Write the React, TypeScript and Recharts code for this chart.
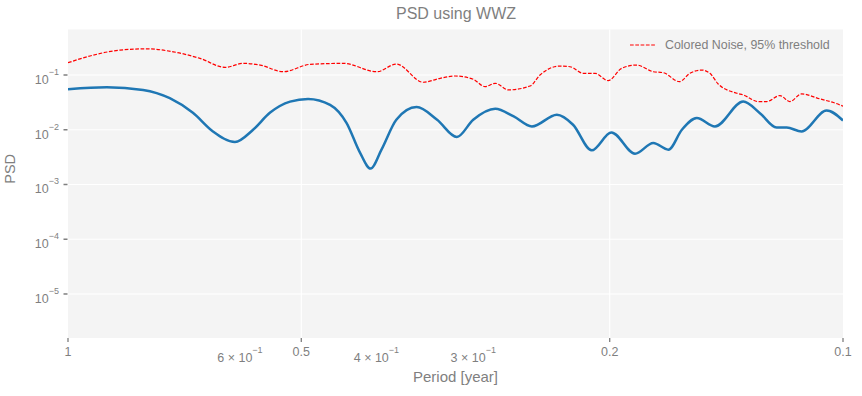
import { LineChart, Line, XAxis, YAxis, CartesianGrid, Label } from 'recharts';

// periods [year] and PSD values
const psdPeriod = [
  1.0, 0.891, 0.8, 0.739, 0.69, 0.65, 0.609, 0.577, 0.549, 0.517, 0.49, 0.459, 0.437, 0.42, 0.407,
  0.394, 0.377, 0.355, 0.334, 0.315, 0.3, 0.281, 0.266, 0.252, 0.234, 0.223, 0.211, 0.199, 0.1855,
  0.1757, 0.168, 0.1614, 0.1544, 0.1463, 0.1345, 0.128, 0.1218, 0.1182, 0.1131, 0.105, 0.1,
];
const psdValues = [
  0.055, 0.0598, 0.0534, 0.0377, 0.0204, 0.00931, 0.00598, 0.01, 0.0204, 0.0327, 0.0366, 0.0285,
  0.01324, 0.00382, 0.00195, 0.00433, 0.0152, 0.0259, 0.0152, 0.00737, 0.0152, 0.0241, 0.01746,
  0.01148, 0.01874, 0.01233, 0.0042, 0.00893, 0.00366, 0.00573, 0.00433, 0.01, 0.01633, 0.01148,
  0.0327, 0.0201, 0.011, 0.011, 0.00931, 0.02244, 0.01476,
];

const noisePeriod = [
  1.0, 0.9276, 0.857, 0.7918, 0.7313, 0.6756, 0.627, 0.594, 0.565, 0.5275, 0.487, 0.4414, 0.3995,
  0.377, 0.348, 0.331, 0.3168, 0.3, 0.2897, 0.281, 0.2703, 0.2533, 0.246, 0.2318, 0.225, 0.2163,
  0.2089, 0.2009, 0.193, 0.1846, 0.1757, 0.1705, 0.1626, 0.1576, 0.1522, 0.1485, 0.1449, 0.1371,
  0.1345, 0.1286, 0.1255, 0.1206, 0.1171, 0.1131, 0.1071, 0.1029, 0.1,
];
const noiseValues = [
  0.1674, 0.231, 0.2847, 0.3006, 0.2652, 0.2012, 0.138, 0.1632, 0.152, 0.1148, 0.1565, 0.1632,
  0.1148, 0.1585, 0.0737, 0.0871, 0.0959, 0.0835, 0.0613, 0.0706, 0.0534, 0.0631, 0.1, 0.1458,
  0.1416, 0.1074, 0.1074, 0.0788, 0.1324, 0.152, 0.1148, 0.1102, 0.0755, 0.1074, 0.1233, 0.1074,
  0.0686, 0.0465, 0.0433, 0.0327, 0.0327, 0.0421, 0.0327, 0.0451, 0.0366, 0.0314, 0.027,
];

const xTicks = [1, 0.6, 0.5, 0.4, 0.3, 0.2, 0.1];
const xMajor = [1, 0.5, 0.2, 0.1];
const yTicks = [1e-5, 1e-4, 1e-3, 1e-2, 1e-1];

const psdData = psdPeriod.map((p, i) => ({ period: p, psd: psdValues[i] }));
const noiseData = noisePeriod.map((p, i) => ({ period: p, noise: noiseValues[i] }));

const GRAY = '#7f7f7f';
const FONT = '"Liberation Sans", Arial, sans-serif';

const XTick = ({ x, y, payload }: any) => {
  const v = payload.value;
  if (xMajor.includes(v)) {
    return (
      <g>
        <line x1={x} x2={x} y1={y} y2={y + 4} stroke={GRAY} strokeWidth={1.3} />
        <text x={x} y={y + 18} textAnchor="middle" fill={GRAY} fontSize={12.5} fontFamily={FONT}>
          {String(v)}
        </text>
      </g>
    );
  }
  const m = Math.round(v * 10);
  return (
    <text x={x} y={y + 24} textAnchor="middle" fill={GRAY} fontSize={12.5} fontFamily={FONT}>
      {m} × 10<tspan dy={-9} fontSize={9}>−1</tspan>
    </text>
  );
};

const YTick = ({ x, y, payload }: any) => {
  const e = Math.round(Math.log10(payload.value));
  return (
    <g>
      <line x1={x - 4.5} x2={x - 0.5} y1={y} y2={y} stroke={GRAY} strokeWidth={1.5} />
      <text x={x - 9} y={y + 9} textAnchor="end" fill={GRAY} fontSize={12.5} fontFamily={FONT}>
        10<tspan dy={-9} fontSize={9}>−{Math.abs(e)}</tspan>
      </text>
    </g>
  );
};

export default function App() {
  return (
    <div style={{ position: 'absolute', left: 0, top: 0, width: 862, height: 396, background: '#fff', fontFamily: FONT }}>
      <div style={{ position: 'absolute', left: 0, width: 912, top: 5, textAlign: 'center', color: GRAY, fontSize: 16 }}>
        PSD using WWZ
      </div>
      <LineChart width={862} height={396} data={psdData} margin={{ top: 29.5, right: 19, bottom: 8, left: 8 }}>
        <CartesianGrid fill="#f4f4f4" stroke="#ffffff" strokeWidth={1.2} verticalValues={[0.5, 0.2]} horizontalValues={yTicks} />
        <XAxis
          dataKey="period"
          type="number"
          scale="log"
          domain={[0.1, 1]}
          reversed
          allowDataOverflow
          ticks={xTicks}
          interval={0}
          tick={<XTick />}
          tickLine={false}
          axisLine={false}
          tickSize={0}
          tickMargin={0}
          height={50}
        >
          <Label value="Period [year]" position="insideBottom" offset={6} fill={GRAY} fontSize={15} fontFamily={FONT} />
        </XAxis>
        <YAxis
          type="number"
          scale="log"
          domain={[1.57e-6, 0.678]}
          allowDataOverflow
          ticks={yTicks}
          interval={0}
          tick={<YTick />}
          tickLine={false}
          axisLine={false}
          tickSize={0}
          tickMargin={0}
          width={60}
        >
          <Label value="PSD" angle={-90} position="insideLeft" offset={0} dx={2} fill={GRAY} fontSize={14.5} fontFamily={FONT} />
        </YAxis>
        <Line
          data={noiseData}
          dataKey="noise"
          type="monotone"
          stroke="#ff0000"
          strokeWidth={1.2}
          strokeDasharray="3.7 1.6"
          dot={false}
          isAnimationActive={false}
        />
        <Line
          data={psdData}
          dataKey="psd"
          type="monotone"
          stroke="#1f77b4"
          strokeWidth={2.5}
          dot={false}
          isAnimationActive={false}
        />
      </LineChart>
      <svg style={{ position: 'absolute', left: 628, top: 35 }} width={220} height={20}>
        <line x1={2} x2={27} y1={10} y2={10} stroke="#ff0000" strokeWidth={1.2} strokeDasharray="3.7 1.6" />
        <text x={37} y={14} fill={GRAY} fontSize={12.4} fontFamily={FONT}>
          Colored Noise, 95% threshold
        </text>
      </svg>
    </div>
  );
}
